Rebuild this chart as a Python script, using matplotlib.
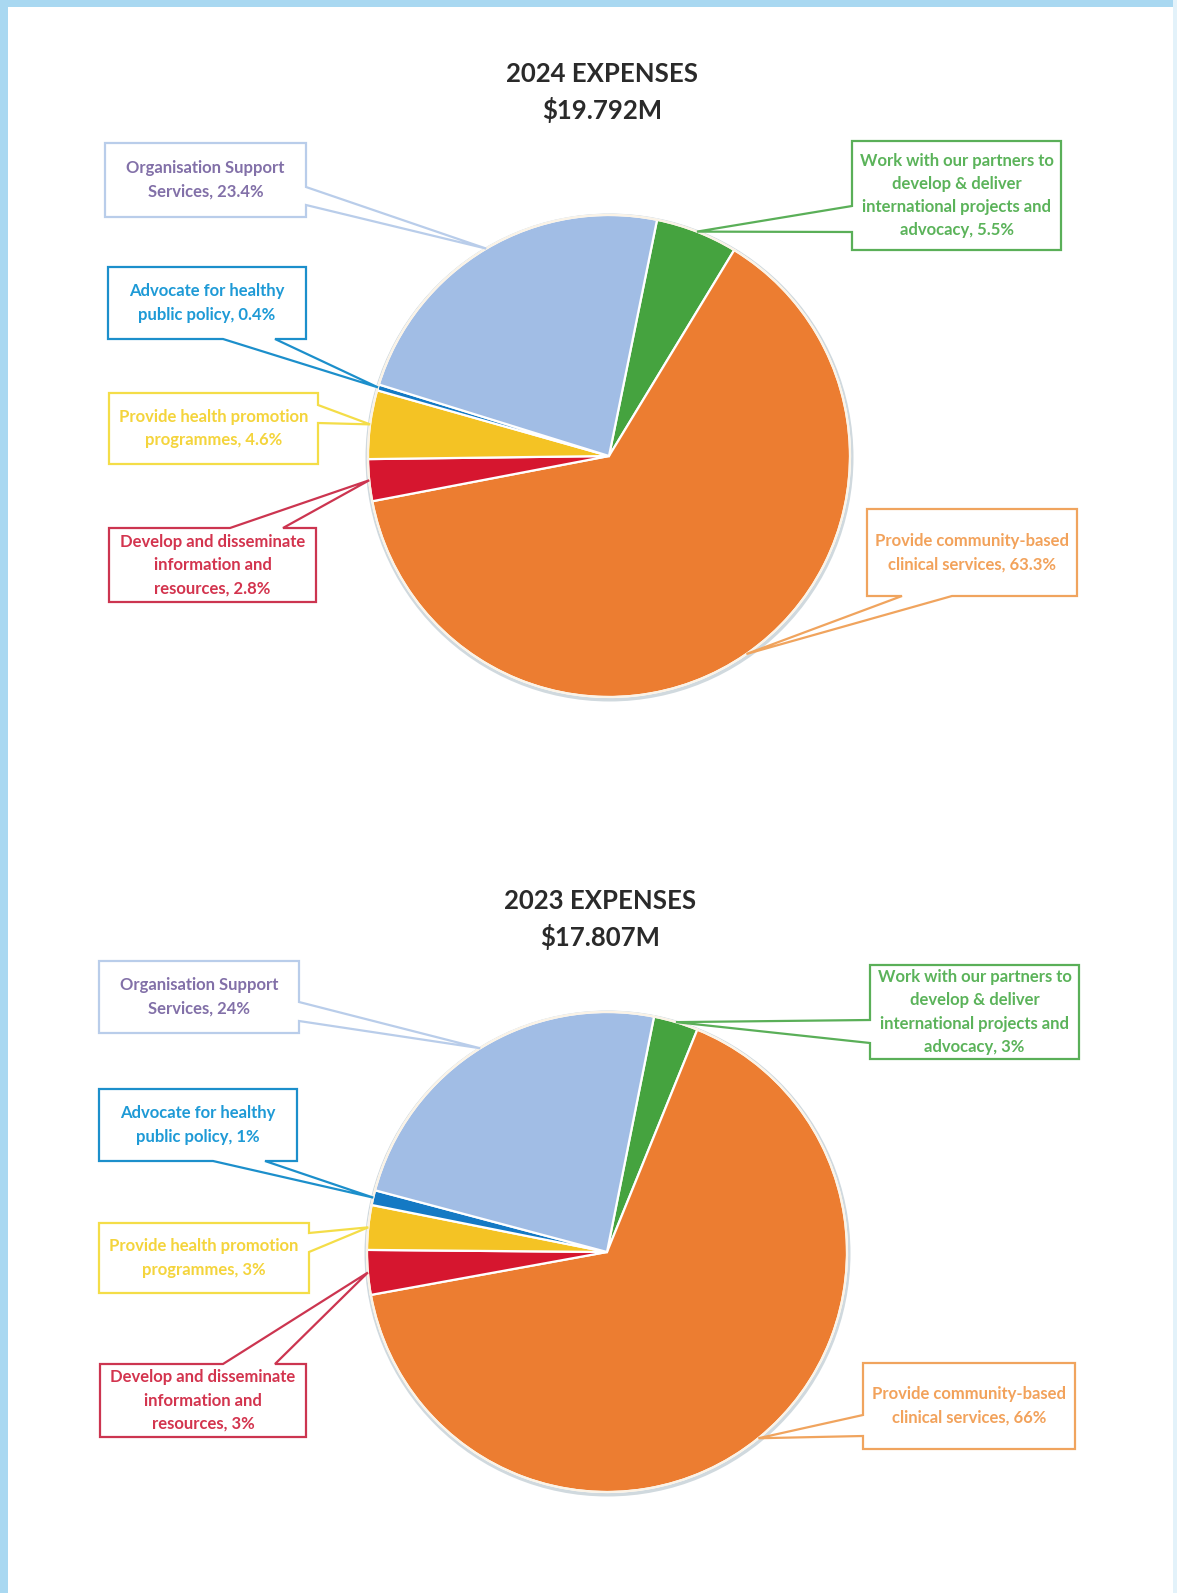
import numpy as np
import matplotlib.pyplot as plt
from matplotlib.patches import Polygon, Circle, Rectangle

plt.rcParams['font.family'] = ['Lato', 'DejaVu Sans']

W, H = 1177, 1593

# slices in clockwise order, starting near 12 o'clock
categories = [
    'Work with our partners to\ndevelop & deliver\ninternational projects and\nadvocacy',
    'Provide community-based\nclinical services',
    'Develop and disseminate\ninformation and\nresources',
    'Provide health promotion\nprogrammes',
    'Advocate for healthy\npublic policy',
    'Organisation Support\nServices',
]
values_2024 = [5.5, 63.3, 2.8, 4.6, 0.4, 23.4]
values_2023 = [3, 66, 3, 3, 1, 24]
titles_2024 = ['2024 EXPENSES', r'\$19.792M']
titles_2023 = ['2023 EXPENSES', r'\$17.807M']

slice_colors = ['#45a33f', '#ec7d31', '#d6162f', '#f4c324', '#1479c4', '#a1bde5']
text_colors = ['#5bb35a', '#f2a25b', '#d3344e', '#f4d43c', '#1e9ad6', '#8270a8']
line_colors = ['#5aaf58', '#f0a45e', '#cc3550', '#f4dd48', '#1c8fcb', '#b9cdea']

# layout (pixel coords, y from top): box x0, y0, x1, y1, side of pointer, pointer base a, b
boxes_2024 = [
    (852, 141, 1061, 250, 'left', 206, 232),
    (867, 509, 1077, 596, 'bottom', 902, 952),
    (109, 528, 316, 602, 'top', 230, 283),
    (109, 393, 318, 464, 'right', 405, 423),
    (108, 267, 306, 339, 'bottom', 223, 275),
    (105, 143, 306, 217, 'right', 187, 205),
]
boxes_2023 = [
    (870, 965, 1079, 1059, 'left', 1020, 1043),
    (863, 1363, 1075, 1449, 'left', 1415, 1436),
    (100, 1364, 306, 1437, 'top', 223, 275),
    (99, 1223, 309, 1293, 'right', 1233, 1252),
    (99, 1089, 297, 1161, 'bottom', 213, 265),
    (99, 961, 299, 1033, 'right', 1002, 1021),
]


def Y(y):
    return H - y


fig = plt.figure(figsize=(W / 100, H / 100), dpi=100)
ax = fig.add_axes([0, 0, 1, 1])

# scanned page border
ax.add_patch(Rectangle((0, Y(7)), W, 7, color='#a9d8f1', lw=0, zorder=0))
ax.add_patch(Rectangle((0, 0), 8, H, color='#a9d8f1', lw=0, zorder=0))
ax.add_patch(Rectangle((W - 4, 0), 4, H, color='#e3f2fa', lw=0, zorder=0))


def callout(box, tip, lc, tc, label):
    x0, y0, x1, y1, side, a, b = box
    tl, tr, br, bl = (x0, y0), (x1, y0), (x1, y1), (x0, y1)
    if side == 'top':
        pts = [tl, (a, y0), tip, (b, y0), tr, br, bl]
    elif side == 'right':
        pts = [tl, tr, (x1, a), tip, (x1, b), br, bl]
    elif side == 'bottom':
        pts = [tl, tr, br, (b, y1), tip, (a, y1), bl]
    else:
        pts = [tl, tr, br, bl, (x0, b), tip, (x0, a)]
    pts = [(px, Y(py)) for px, py in pts]
    ax.add_patch(Polygon(pts, closed=True, fill=False, edgecolor=lc, lw=1.6, zorder=5))
    ax.text((x0 + x1) / 2, Y((y0 + y1) / 2), label, ha='center', va='center',
            color=tc, fontsize=12, fontweight='bold', linespacing=1.55, zorder=6)


def draw_pie(values, fmt, cx, cy, r, start, boxes, titles, ty):
    ax.add_patch(Circle((cx + 0.5, Y(cy + 1.5)), r + 3, color='#d0d9de', lw=0, zorder=1))
    wedges, _ = ax.pie(values, colors=slice_colors, startangle=start, counterclock=False,
                       center=(cx, Y(cy)), radius=r, frame=True,
                       wedgeprops=dict(edgecolor='white', linewidth=1.6, zorder=2))
    for i, w in enumerate(wedges):
        w.set_zorder(2)
        mid = np.deg2rad((w.theta1 + w.theta2) / 2)
        tip = (cx + r * np.cos(mid), cy - r * np.sin(mid))
        label = categories[i] + ', ' + fmt.format(values[i]) + '%'
        callout(boxes[i], tip, line_colors[i], text_colors[i], label)
    ax.add_patch(Circle((cx, Y(cy)), r, fill=False, edgecolor='#fbf3e6', lw=1.5, zorder=3))
    ax.text(cx - 7, Y(ty), titles[0], ha='center', va='center', fontsize=18.5,
            fontweight='bold', color='#2a2a2a')
    ax.text(cx - 7, Y(ty + 36), titles[1], ha='center', va='center', fontsize=18.5,
            fontweight='bold', color='#2a2a2a')


draw_pie(values_2024, '{:.1f}', 609, 456, 241, 78.5, boxes_2024, titles_2024, 74)
draw_pie(values_2023, '{:g}', 607, 1252, 240, 78.7, boxes_2023, titles_2023, 901)

ax.set_xlim(0, W)
ax.set_ylim(0, H)
ax.set_aspect('equal')
ax.axis('off')

fig.savefig('out.png', dpi=100, facecolor='white')
